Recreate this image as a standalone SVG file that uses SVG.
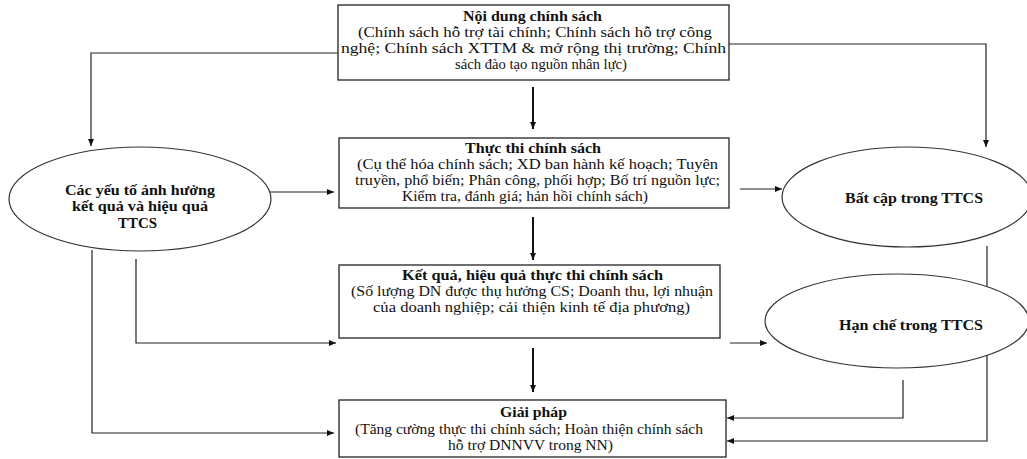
<svg xmlns="http://www.w3.org/2000/svg" width="1027" height="459" viewBox="0 0 1027 459">
<style>
.box{fill:#fff;stroke:#222;stroke-width:1.3}
.ell{fill:#fff;stroke:#333;stroke-width:1.2}
.c{fill:none;stroke:#222;stroke-width:1.2}
.ct{fill:none;stroke:#111;stroke-width:2}
text{font-family:"Liberation Serif","Times New Roman",serif;font-size:14px;fill:#111;text-anchor:middle}
.b{font-weight:bold}
</style>
<defs>
<marker id="ah" markerUnits="userSpaceOnUse" markerWidth="8" markerHeight="8" refX="7" refY="4" orient="auto">
<path d="M0,1 L7,4 L0,7 Z" fill="#111"/>
</marker>
</defs>
<g id="connectors">
<path class="c" d="M338,53 H91 V146" marker-end="url(#ah)"/>
<path class="c" d="M729,44 H986 V147" marker-end="url(#ah)"/>
<path class="ct" d="M533,87 V129" marker-end="url(#ah)"/>
<path class="ct" d="M533,217 V260" marker-end="url(#ah)"/>
<path class="ct" d="M533,348 V392" marker-end="url(#ah)"/>
<path class="c" d="M266,192 H334" marker-end="url(#ah)"/>
<path class="c" d="M136,259 V343 H336" marker-end="url(#ah)"/>
<path class="c" d="M92,250 V433 H334" marker-end="url(#ah)"/>
<path class="c" d="M740,189 H782" marker-end="url(#ah)"/>
<path class="c" d="M730,343 H767" marker-end="url(#ah)"/>
<path class="c" d="M903,380 V418 H727" marker-end="url(#ah)"/>
<path class="c" d="M987,246 V441 H727" marker-end="url(#ah)"/>
</g>
<g id="node-noidung">
<rect class="box" x="338" y="5" width="391" height="75"/>
<text class="b" x="532.5" y="21" textLength="139" lengthAdjust="spacingAndGlyphs">Nội dung chính sách</text>
<text x="535" y="37" textLength="354" lengthAdjust="spacingAndGlyphs">(Chính sách hỗ trợ tài chính; Chính sách hỗ trợ công</text>
<text x="533.5" y="53" textLength="385" lengthAdjust="spacingAndGlyphs">nghệ; Chính sách XTTM &amp; mở rộng thị trường; Chính</text>
<text x="541" y="69" textLength="172" lengthAdjust="spacingAndGlyphs">sách đào tạo nguồn nhân lực)</text>
</g>
<g id="node-thucthi">
<rect class="box" x="339" y="138" width="390" height="70"/>
<text class="b" x="533" y="153" textLength="136" lengthAdjust="spacingAndGlyphs">Thực thi chính sách</text>
<text x="537.5" y="169" textLength="361" lengthAdjust="spacingAndGlyphs">(Cụ thể hóa chính sách; XD ban hành kế hoạch; Tuyên</text>
<text x="537.5" y="185" textLength="365" lengthAdjust="spacingAndGlyphs">truyền, phổ biến; Phân công, phối hợp; Bố trí nguồn lực;</text>
<text x="525" y="201" textLength="246" lengthAdjust="spacingAndGlyphs">Kiểm tra, đánh giá; hản hồi chính sách)</text>
</g>
<g id="node-ketqua">
<rect class="box" x="339" y="265" width="381" height="73"/>
<text class="b" x="532.5" y="280" textLength="261" lengthAdjust="spacingAndGlyphs">Kết quả, hiệu quả thực thi chính sách</text>
<text x="532" y="296" textLength="362" lengthAdjust="spacingAndGlyphs">(Số lượng DN được thụ hưởng CS; Doanh thu, lợi nhuận</text>
<text x="531.5" y="312" textLength="317" lengthAdjust="spacingAndGlyphs">của doanh nghiệp; cải thiện kinh tế địa phương)</text>
</g>
<g id="node-giaiphap">
<rect class="box" x="339" y="400" width="387" height="57"/>
<text class="b" x="533.5" y="417" textLength="67" lengthAdjust="spacingAndGlyphs">Giải pháp</text>
<text x="529" y="434" textLength="348" lengthAdjust="spacingAndGlyphs">(Tăng cường thực thi chính sách; Hoàn thiện chính sách</text>
<text x="530.5" y="450" textLength="165" lengthAdjust="spacingAndGlyphs">hỗ trợ DNNVV trong NN)</text>
</g>
<g id="node-yeuto">
<ellipse class="ell" cx="140" cy="199" rx="131" ry="52"/>
<text class="b" x="140" y="195" textLength="150" lengthAdjust="spacingAndGlyphs">Các yếu tố ảnh hưởng</text>
<text class="b" x="140" y="211" textLength="136" lengthAdjust="spacingAndGlyphs">kết quả và hiệu quả</text>
<text class="b" x="137.5" y="228" textLength="39" lengthAdjust="spacingAndGlyphs">TTCS</text>
</g>
<g id="node-batcap">
<ellipse class="ell" cx="907" cy="197" rx="125" ry="50"/>
<text class="b" x="914" y="203" textLength="138" lengthAdjust="spacingAndGlyphs">Bất cập trong TTCS</text>
</g>
<g id="node-hanche">
<ellipse class="ell" cx="897" cy="321" rx="132" ry="47"/>
<text class="b" x="911" y="330" textLength="144" lengthAdjust="spacingAndGlyphs">Hạn chế trong TTCS</text>
</g>
</svg>
